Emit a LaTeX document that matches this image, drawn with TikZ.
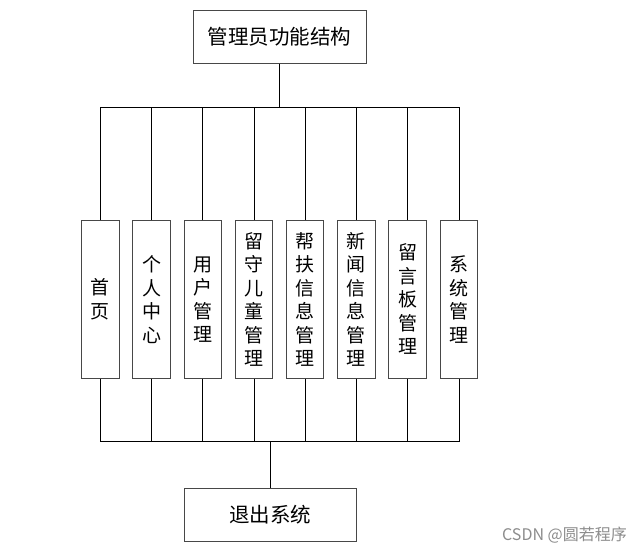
\documentclass[tikz,border=0pt]{standalone}
\usepackage{fontspec}
\setmainfont{Noto Sans CJK SC}
\begin{document}
\begin{tikzpicture}[x=1pt,y=-1pt,
  box/.style={draw=black!72, line width=1pt, fill=white, inner sep=0pt},
  vbox/.style={box, minimum width=37.5pt, minimum height=157.5pt, align=center,
    font=\fontsize{19}{23.5}\selectfont},
  bus/.style={line width=0.9pt, black},
  wm/.style={text=black!45, font=\fontsize{16}{18}\selectfont, inner sep=0pt}]
\useasboundingbox (0,0) rectangle (642,555);
\node[box, minimum width=173pt, minimum height=53pt,
  font=\fontsize{20.5}{22}\selectfont] (top) at (279.5,36.5) {管理员功能结构};
\foreach \i/\x/\t in {1/100.3/{首\\页},
                      2/151.5/{个\\人\\中\\心},
                      3/202.8/{用\\户\\管\\理},
                      4/254.0/{留\\守\\儿\\童\\管\\理},
                      5/305.0/{帮\\扶\\信\\息\\管\\理},
                      6/356.3/{新\\闻\\信\\息\\管\\理},
                      7/407.6/{留\\言\\板\\管\\理},
                      8/459.0/{系\\统\\管\\理}}
  \node[vbox] (b\i) at (\x,299.4) {\t};
\node[box, minimum width=172pt, minimum height=52.6pt,
  font=\fontsize{20.5}{22}\selectfont] (bot) at (270.2,515) {退出系统};
\coordinate (tb) at (279.5,107);
\coordinate (bb) at (270.2,441);
\draw[line width=1.8pt] (top.south) -- (tb);
\draw[bus] (b1.north) -- (b1.north |- tb) -- (b8.north |- tb) -- (b8.north);
\draw[bus] (b1.south) -- (b1.south |- bb) -- (b8.south |- bb) -- (b8.south);
\foreach \i in {2,...,7} {
  \draw[bus] (b\i.north) -- (b\i.north |- tb);
  \draw[bus] (b\i.south) -- (b\i.south |- bb);
}
\draw[bus] (bot.north) -- (bb);
\node[wm, anchor=east] (wmark) at (627,535) {CSDN @圆若程序};
\end{tikzpicture}
\end{document}
